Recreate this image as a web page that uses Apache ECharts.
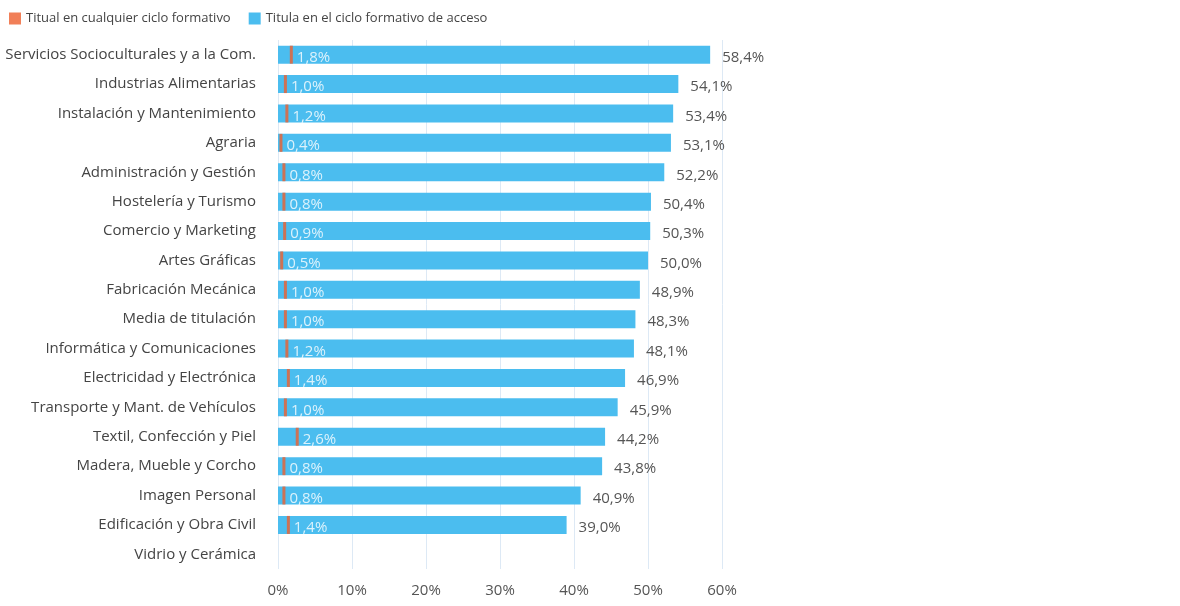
<!DOCTYPE html>
<html><head><meta charset="utf-8">
<script src="https://cdn.jsdelivr.net/npm/echarts@6/dist/echarts.min.js"></script>
<style>html,body{margin:0;padding:0;background:#fff}#c{width:1180px;height:606px}</style>
</head><body><div id="c"></div>
<script>
var categories = ["Servicios Socioculturales y a la Com.","Industrias Alimentarias","Instalación y Mantenimiento","Agraria","Administración y Gestión","Hostelería y Turismo","Comercio y Marketing","Artes Gráficas","Fabricación Mecánica","Media de titulación","Informática y Comunicaciones","Electricidad y Electrónica","Transporte y Mant. de Vehículos","Textil, Confección y Piel","Madera, Mueble y Corcho","Imagen Personal","Edificación y Obra Civil","Vidrio y Cerámica"];
var anyCycle = [1.8,1.0,1.2,0.4,0.8,0.8,0.9,0.5,1.0,1.0,1.2,1.4,1.0,2.6,0.8,0.8,1.4,null];
var accessCycle = [58.4,54.1,53.4,53.1,52.2,50.4,50.3,50.0,48.9,48.3,48.1,46.9,45.9,44.2,43.8,40.9,39.0,null];
var xTicks = [0,10,20,30,40,50,60];
function fmt(v){return v.toFixed(1).replace('.',',')+'%';}
var font = '"Open Sans", "Noto Sans", sans-serif';
var chart = echarts.init(document.getElementById('c'));
chart.setOption({
  animation:false,
  textStyle:{fontFamily:font},
  legend:{left:4,top:7,itemWidth:12,itemHeight:12,itemGap:18,icon:'rect',
    textStyle:{fontSize:13,color:'#444',fontFamily:font},
    data:['Titual en cualquier ciclo formativo','Titula en el ciclo formativo de acceso']},
  grid:{left:278,right:458,top:40,bottom:37},
  xAxis:{type:'value',min:0,max:60,interval:10,
    axisLabel:{formatter:function(v){return v+'%';},fontSize:15,color:'#555',margin:14,fontFamily:font},
    axisLine:{show:false},axisTick:{show:false},
    splitLine:{lineStyle:{color:'#dde9f5',width:1}}},
  yAxis:{type:'category',data:categories,inverse:true,
    axisLine:{show:false},axisTick:{show:false},
    axisLabel:{fontSize:15,color:'#444',margin:22,fontFamily:font}},
  series:[
    {name:'Titula en el ciclo formativo de acceso',type:'bar',data:accessCycle,barWidth:18,
     itemStyle:{color:'#4bbdef'},z:2,
     label:{show:true,position:'right',distance:12,offset:[0,3],fontSize:15,color:'#555',fontFamily:font,
       formatter:function(p){return fmt(p.value);}}},
    {name:'Titual en cualquier ciclo formativo',type:'scatter',data:anyCycle,symbol:'rect',symbolSize:[3,18],
     itemStyle:{color:'#ed5f2e'},z:3,
     label:{show:true,position:'right',distance:4,offset:[0,3],fontSize:15,color:'#fff',fontFamily:font,
       formatter:function(p){return fmt(p.value);}}}
  ]
});
</script></body></html>
